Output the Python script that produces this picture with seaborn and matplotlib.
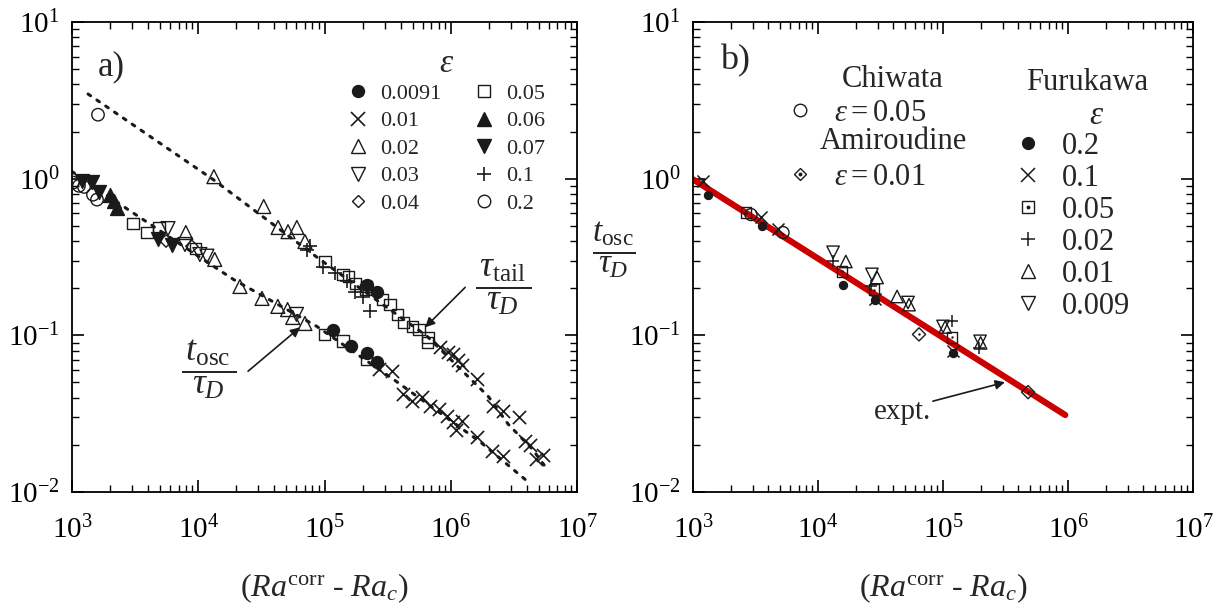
import numpy as np
import matplotlib
matplotlib.use("Agg")
import matplotlib.pyplot as plt
import seaborn as sns
from matplotlib.lines import Line2D
from matplotlib.ticker import LogLocator, NullFormatter

# ---------------- panel a data ----------------
# eps = 0.0091 (filled circles)
a_x_0091 = [1.17e5, 1.63e5, 2.18e5, 2.6e5, 2.17e5, 2.6e5]
a_y_0091 = [0.1076, 0.085, 0.0767, 0.0675, 0.211, 0.188]
# eps = 0.01 (crosses)
a_x_001 = [2.7e5, 3.4e5, 4.2e5, 4.94e5, 5.93e5, 6.87e5, 8.1e5, 9.34e5, 1.05e6, 1.1e6,
           1.23e6, 1.62e6, 2.13e6, 2.6e6,
           8.2e5, 9.5e5, 1.05e6, 1.15e6, 1.23e6, 1.62e6, 2.17e6, 2.6e6, 3.47e6, 3.9e6,
           4.27e6, 4.7e6, 5.4e6]
a_y_001 = [0.061, 0.059, 0.042, 0.038, 0.0403, 0.0353, 0.0338, 0.0305, 0.028, 0.025,
           0.0283, 0.0224, 0.0182, 0.017,
           0.084, 0.078, 0.0757, 0.070, 0.065, 0.0525, 0.0353, 0.0328, 0.030, 0.0211,
           0.020, 0.0162, 0.0172]
# eps = 0.02 (open triangles)
a_x_002 = [7970, 1.35e4, 2.14e4, 3.2e4, 4.27e4, 5.1e4, 5.6e4, 7.0e4,
           1.33e4, 3.3e4, 4.29e4, 5.14e4, 6.04e4, 7.0e4]
a_y_002 = [0.453, 0.305, 0.205, 0.172, 0.153, 0.146, 0.130, 0.119,
           1.03, 0.664, 0.488, 0.459, 0.488, 0.397]
# eps = 0.03 (open down triangles)
a_x_003 = [5760, 7850, 1.03e4, 1.17e4, 6.0e4]
a_y_003 = [0.48, 0.38, 0.328, 0.32, 0.136]
# eps = 0.04 (open diamonds)
a_x_004 = [5560, 8900]
a_y_004 = [0.40, 0.37]
# eps = 0.05 (open squares)
a_x_005 = [3040, 3930, 4890, 9500, 1.0e5, 1.4e5, 2.15e5,
           1.01e5, 1.4e5, 1.54e5, 1.75e5, 2.1e5, 2.15e5, 2.86e5, 3.3e5, 3.76e5,
           4.2e5, 4.94e5, 5.6e5, 6.6e5, 6.5e5]
a_y_005 = [0.516, 0.453, 0.49, 0.36, 0.101, 0.092, 0.070,
           0.296, 0.245, 0.237, 0.214, 0.196, 0.205, 0.169, 0.157, 0.136,
           0.121, 0.114, 0.109, 0.097, 0.090]
# eps = 0.06 (filled triangles)
a_x_006 = [2000, 2150, 2275]
a_y_006 = [0.79, 0.72, 0.653]
# eps = 0.07 (filled down triangles)
a_x_007 = [1200, 1440, 1637, 4800, 6200]
a_y_007 = [0.97, 0.957, 0.826, 0.41, 0.38]
# eps = 0.1 (plus)
a_x_01 = [7.28e4, 7.7e4, 9.8e4, 1.21e5, 1.51e5, 1.75e5, 2.0e5, 2.3e5]
a_y_01 = [0.353, 0.37, 0.275, 0.251, 0.221, 0.188, 0.175, 0.142]
# eps = 0.2 (open circles)
a_x_02 = [1020, 1135, 1245, 1466, 1578, 1607]
a_y_02 = [0.944, 0.90, 0.886, 0.79, 0.735, 2.56]

# dotted guide curves
a_fit_osc_x = [1e3, 2.78e3, 1.89e4, 8.7e4, 3.5e5, 1.71e6, 4.1e6]
a_fit_osc_y = [1.11, 0.635, 0.228, 0.114, 0.0525, 0.0209, 0.0116]
a_fit_tail_x = [1.34e3, 1.33e4, 9.2e4, 6.5e5, 1.98e6, 2.85e6, 4.42e6, 5.8e6]
a_fit_tail_y = [3.47, 0.98, 0.305, 0.0986, 0.0408, 0.0271, 0.0188, 0.014]

a_labels = ["0.0091", "0.01", "0.02", "0.03", "0.04", "0.05", "0.06", "0.07", "0.1", "0.2"]

# ---------------- panel b data ----------------
b_chiwata_x = [2910, 5250]
b_chiwata_y = [0.59, 0.453]
b_amir_x = [6.43e4, 4.79e5]
b_amir_y = [0.1014, 0.0434]
b_f02_x = [1318, 3565, 1.58e4, 2.86e4, 1.2e5]
b_f02_y = [0.79, 0.50, 0.209, 0.169, 0.0767]
b_f01_x = [1202, 3500, 4790, 2.86e4, 1.2e5]
b_f01_y = [0.96, 0.573, 0.48, 0.17, 0.079]
b_f005_x = [2655, 1.56e4, 2.8e4, 1.18e5]
b_f005_y = [0.607, 0.256, 0.196, 0.097]
b_f002_x = [1.32e4, 2.65e4, 1.18e5, 1.94e5]
b_f002_y = [0.296, 0.205, 0.123, 0.083]
b_f001_x = [1.67e4, 2.97e4, 4.29e4, 5.35e4, 1.04e5, 2.0e5]
b_f001_y = [0.296, 0.234, 0.177, 0.157, 0.113, 0.0895]
b_f0009_x = [1.32e4, 2.7e4, 5.25e4, 1.0e5, 1.98e5]
b_f0009_y = [0.339, 0.245, 0.162, 0.114, 0.0916]
b_expt_x = [1e3, 9.5e5]
b_expt_y = [0.99, 0.031]
b_labels = ["0.2", "0.1", "0.05", "0.02", "0.01", "0.009"]

# ---------------- style ----------------
sns.set_theme(style="ticks")
plt.rcParams.update({
    "font.family": ["Liberation Serif", "DejaVu Serif"],
    "mathtext.fontset": "custom",
    "mathtext.rm": "Liberation Serif",
    "mathtext.it": "Liberation Serif:italic",
    "mathtext.bf": "Liberation Serif:bold",
    "axes.linewidth": 1.3,
    "axes.edgecolor": "black",
    "axes.unicode_minus": False,
})

fig = plt.figure(figsize=(12.3, 6.05), dpi=100)
axA = fig.add_axes([72 / 1230, 113 / 605, 505 / 1230, 470 / 605])
axB = fig.add_axes([693 / 1230, 113 / 605, 500 / 1230, 470 / 605])


def style_axis(ax):
    ax.set_xscale("log")
    ax.set_yscale("log")
    ax.set_xlim(1e3, 1e7)
    ax.set_ylim(1e-2, 1e1)
    for axis in (ax.xaxis, ax.yaxis):
        axis.set_major_locator(LogLocator(base=10, numticks=12))
        axis.set_minor_locator(LogLocator(base=10, subs=np.arange(2, 10), numticks=100))
        axis.set_minor_formatter(NullFormatter())
    ax.tick_params(which="both", direction="in", top=True, right=True, colors="black")
    ax.tick_params(which="major", length=8.5, width=1.2, labelsize=21, pad=9)
    ax.tick_params(which="minor", length=4.8, width=1.0)
    ax.tick_params(axis="x", which="major", pad=17)
    for sp in ax.spines.values():
        sp.set_visible(True)
        sp.set_linewidth(1.3)
        sp.set_color("black")
    ax.set_facecolor("white")
    ax.grid(False)
    ax.set_xlabel(r"$(Ra^{\rm corr}$ - $Ra_c)$", fontsize=23)
    ax.xaxis.set_label_coords(0.5, -0.17)


def pts(ax, xs, ys, marker, s, filled=False, lw=1.0, z=3):
    if marker in ("x", "+"):
        sns.scatterplot(x=xs, y=ys, ax=ax, marker=marker, s=s, color="k",
                        linewidth=lw, legend=False, zorder=z)
    else:
        sns.scatterplot(x=xs, y=ys, ax=ax, marker=marker, s=s, color="k",
                        facecolor=("k" if filled else "none"), edgecolor="k",
                        linewidth=lw, legend=False, zorder=z)


style_axis(axA)
style_axis(axB)

# ---------------- panel a ----------------
dotted = dict(color="k", linewidth=2.2, linestyle=(0, (1, 2.5)), dash_capstyle="round")
sns.lineplot(x=a_fit_osc_x, y=a_fit_osc_y, ax=axA, sort=False, **dotted)
sns.lineplot(x=a_fit_tail_x, y=a_fit_tail_y, ax=axA, sort=False, **dotted)

pts(axA, a_x_0091, a_y_0091, "o", 74, filled=True)
pts(axA, a_x_001, a_y_001, "x", 90, lw=1.2)
pts(axA, a_x_002, a_y_002, "^", 100)
pts(axA, a_x_003, a_y_003, "v", 100)
pts(axA, a_x_004, a_y_004, "D", 40)
pts(axA, a_x_005, a_y_005, "s", 64)
pts(axA, a_x_006, a_y_006, "^", 100, filled=True)
pts(axA, a_x_007, a_y_007, "v", 100, filled=True)
pts(axA, a_x_01, a_y_01, "+", 110, lw=1.2)
pts(axA, a_x_02, a_y_02, "o", 80)

a_handles = [
    Line2D([], [], ls="none", marker="o", ms=8.6, mfc="k", mec="k"),
    Line2D([], [], ls="none", marker="x", ms=9.5, mec="k", mew=1.2),
    Line2D([], [], ls="none", marker="^", ms=9.5, mfc="none", mec="k", mew=1.0),
    Line2D([], [], ls="none", marker="v", ms=9.5, mfc="none", mec="k", mew=1.0),
    Line2D([], [], ls="none", marker="D", ms=6.2, mfc="none", mec="k", mew=1.0),
    Line2D([], [], ls="none", marker="s", ms=8.0, mfc="none", mec="k", mew=1.0),
    Line2D([], [], ls="none", marker="^", ms=9.5, mfc="k", mec="k"),
    Line2D([], [], ls="none", marker="v", ms=9.5, mfc="k", mec="k"),
    Line2D([], [], ls="none", marker="+", ms=10.5, mec="k", mew=1.2),
    Line2D([], [], ls="none", marker="o", ms=9.0, mfc="none", mec="k", mew=1.0),
]
legA = axA.legend(a_handles, a_labels, ncol=2, frameon=False, loc="upper left",
                  bbox_to_anchor=(0.545, 0.943), fontsize=16, title=r"$\varepsilon$",
                  title_fontsize=24, handlelength=1.0, handletextpad=0.5,
                  columnspacing=1.4, labelspacing=0.31, borderpad=0, borderaxespad=0)
legA._legend_box.sep = 3

axA.text(0.077, 0.905, "a)", transform=axA.transAxes, fontsize=25, ha="center", va="center")

# annotation fractions
axA.annotate("", xy=(6.27e5, 0.1125), xytext=(1.3e6, 0.2023),
             arrowprops=dict(arrowstyle="-|>", color="k", lw=1.2, mutation_scale=14,
                             shrinkA=0, shrinkB=0))
axA.text(2.6e6, 0.2023, r"$\dfrac{\,\tau_{\rm tail}\,}{\tau_D}$", fontsize=26,
         ha="center", va="center")
axA.annotate("", xy=(6.41e4, 0.1125), xytext=(2.48e4, 0.059),
             arrowprops=dict(arrowstyle="-|>", color="k", lw=1.2, mutation_scale=14,
                             shrinkA=0, shrinkB=0))
axA.text(1.2e4, 0.0607, r"$\dfrac{\,t_{\rm osc}\,}{\tau_D}$", fontsize=26,
         ha="center", va="center")

# ---------------- panel b ----------------
sns.lineplot(x=b_expt_x, y=b_expt_y, ax=axB, color="#cc0000", linewidth=4.5, zorder=2)

pts(axB, b_chiwata_x, b_chiwata_y, "o", 75)
pts(axB, b_amir_x, b_amir_y, "D", 45)
pts(axB, b_amir_x, b_amir_y, "o", 3, filled=True, lw=0)
pts(axB, b_f02_x, b_f02_y, "o", 33, filled=True)
pts(axB, b_f01_x, b_f01_y, "x", 75, lw=1.1)
pts(axB, b_f005_x, b_f005_y, "s", 55)
pts(axB, b_f005_x, b_f005_y, "o", 3, filled=True, lw=0)
pts(axB, b_f002_x, b_f002_y, "+", 85, lw=1.1)
pts(axB, b_f001_x, b_f001_y, "^", 80)
pts(axB, b_f0009_x, b_f0009_y, "v", 80)

axB.annotate("", xy=(3.13e5, 0.0502), xytext=(8.3e4, 0.038),
             arrowprops=dict(arrowstyle="-|>", color="k", lw=1.2, mutation_scale=14,
                             shrinkA=0, shrinkB=0))
axB.text(4.7e4, 0.0324, "expt.", fontsize=21, ha="center", va="center")

axB.text(0.084, 0.917, "b)", transform=axB.transAxes, fontsize=26, ha="center", va="center")

# legends (text headers + marker legends)
axB.text(0.40, 0.877, "Chiwata", transform=axB.transAxes, fontsize=22, ha="center", va="center")
axB.text(0.40, 0.745, "Amiroudine", transform=axB.transAxes, fontsize=22, ha="center", va="center")
axB.text(0.788, 0.872, "Furukawa", transform=axB.transAxes, fontsize=22, ha="center", va="center")
axB.text(0.808, 0.800, r"$\varepsilon$", transform=axB.transAxes, fontsize=24, ha="center", va="center")

legkw = dict(frameon=False, loc="upper left", fontsize=22, handlelength=1.0,
             handletextpad=0.6, labelspacing=0.1, borderpad=0, borderaxespad=0)
legC = axB.legend([Line2D([], [], ls="none", marker="o", ms=9, mfc="none", mec="k", mew=1.0)],
                  [r"$\varepsilon = 0.05$"], bbox_to_anchor=(0.184, 0.837), **legkw)
axB.add_artist(legC)
legAm = axB.legend([(Line2D([], [], ls="none", marker="D", ms=6.5, mfc="none", mec="k", mew=1.0),
                     Line2D([], [], ls="none", marker="o", ms=1.8, mfc="k", mec="k"))],
                   [r"$\varepsilon = 0.01$"], bbox_to_anchor=(0.184, 0.701), **legkw)
axB.add_artist(legAm)
b_handles = [
    Line2D([], [], ls="none", marker="o", ms=8.5, mfc="k", mec="k"),
    Line2D([], [], ls="none", marker="x", ms=9.5, mec="k", mew=1.1),
    (Line2D([], [], ls="none", marker="s", ms=8.5, mfc="none", mec="k", mew=1.0),
     Line2D([], [], ls="none", marker="o", ms=1.8, mfc="k", mec="k")),
    Line2D([], [], ls="none", marker="+", ms=10.5, mec="k", mew=1.1),
    Line2D([], [], ls="none", marker="^", ms=10, mfc="none", mec="k", mew=1.0),
    Line2D([], [], ls="none", marker="v", ms=10, mfc="none", mec="k", mew=1.0),
]
legF = axB.legend(b_handles, b_labels, bbox_to_anchor=(0.64, 0.767), **legkw)

axB.set_ylabel(r"$\dfrac{t_{\rm osc}}{\tau_D}$", fontsize=24, rotation=0, ha="center", va="center")
axB.yaxis.set_label_coords(-0.158, 0.515)

fig.savefig("out.png", dpi=100, facecolor="white")
